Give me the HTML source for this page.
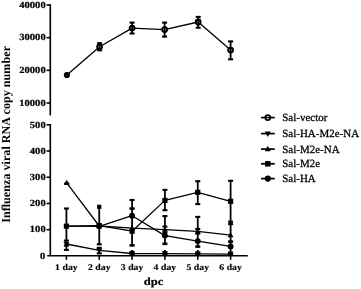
<!DOCTYPE html>
<html><head><meta charset="utf-8"><style>
html,body{margin:0;padding:0;background:#fff;}
svg{display:block;filter:blur(0.35px);}
.tk{font:bold 10px "Liberation Serif", serif;fill:#000;}
.xl{font:bold 9.6px "Liberation Serif", serif;fill:#000;}
.lg{font:10.8px "Liberation Serif", serif;fill:#000;}
text{font-family:"Liberation Serif", serif;text-rendering:geometricPrecision;}
</style></head><body>
<svg width="361" height="289" viewBox="0 0 361 289">
<rect width="361" height="289" fill="#fff"/>
<g transform="translate(10.10,134.40) rotate(-90) scale(0.1,0.1000)"><text x="0" y="0" text-anchor="middle" style="font-family:'Liberation Serif',serif;font-size:121.50px;font-weight:bold;">Influenza viral RNA copy number</text></g>
<line x1="50.3" y1="4.2" x2="50.3" y2="115.5" stroke="#000" stroke-width="1.6"/>
<line x1="46.6" y1="5.00" x2="50.3" y2="5.00" stroke="#000" stroke-width="1.6"/>
<g transform="translate(45.70,7.80) scale(0.1,0.0880)"><text x="0" y="0" text-anchor="end" style="font-family:'Liberation Serif',serif;font-size:106.00px;font-weight:bold;stroke:#000;stroke-width:2.40px;stroke-linejoin:round;">40000</text></g>
<line x1="46.6" y1="37.67" x2="50.3" y2="37.67" stroke="#000" stroke-width="1.6"/>
<g transform="translate(45.70,40.47) scale(0.1,0.0880)"><text x="0" y="0" text-anchor="end" style="font-family:'Liberation Serif',serif;font-size:106.00px;font-weight:bold;stroke:#000;stroke-width:2.40px;stroke-linejoin:round;">30000</text></g>
<line x1="46.6" y1="70.34" x2="50.3" y2="70.34" stroke="#000" stroke-width="1.6"/>
<g transform="translate(45.70,73.14) scale(0.1,0.0880)"><text x="0" y="0" text-anchor="end" style="font-family:'Liberation Serif',serif;font-size:106.00px;font-weight:bold;stroke:#000;stroke-width:2.40px;stroke-linejoin:round;">20000</text></g>
<line x1="46.6" y1="103.01" x2="50.3" y2="103.01" stroke="#000" stroke-width="1.6"/>
<g transform="translate(45.70,105.81) scale(0.1,0.0880)"><text x="0" y="0" text-anchor="end" style="font-family:'Liberation Serif',serif;font-size:106.00px;font-weight:bold;stroke:#000;stroke-width:2.40px;stroke-linejoin:round;">10000</text></g>
<line x1="50.3" y1="124.00000000000001" x2="50.3" y2="255.75" stroke="#000" stroke-width="1.6"/>
<line x1="46.6" y1="124.80" x2="50.3" y2="124.80" stroke="#000" stroke-width="1.6"/>
<g transform="translate(45.70,127.60) scale(0.1,0.0880)"><text x="0" y="0" text-anchor="end" style="font-family:'Liberation Serif',serif;font-size:106.00px;font-weight:bold;stroke:#000;stroke-width:2.40px;stroke-linejoin:round;">500</text></g>
<line x1="46.6" y1="151.02" x2="50.3" y2="151.02" stroke="#000" stroke-width="1.6"/>
<g transform="translate(45.70,153.82) scale(0.1,0.0880)"><text x="0" y="0" text-anchor="end" style="font-family:'Liberation Serif',serif;font-size:106.00px;font-weight:bold;stroke:#000;stroke-width:2.40px;stroke-linejoin:round;">400</text></g>
<line x1="46.6" y1="177.24" x2="50.3" y2="177.24" stroke="#000" stroke-width="1.6"/>
<g transform="translate(45.70,180.04) scale(0.1,0.0880)"><text x="0" y="0" text-anchor="end" style="font-family:'Liberation Serif',serif;font-size:106.00px;font-weight:bold;stroke:#000;stroke-width:2.40px;stroke-linejoin:round;">300</text></g>
<line x1="46.6" y1="203.46" x2="50.3" y2="203.46" stroke="#000" stroke-width="1.6"/>
<g transform="translate(45.70,206.26) scale(0.1,0.0880)"><text x="0" y="0" text-anchor="end" style="font-family:'Liberation Serif',serif;font-size:106.00px;font-weight:bold;stroke:#000;stroke-width:2.40px;stroke-linejoin:round;">200</text></g>
<line x1="46.6" y1="229.68" x2="50.3" y2="229.68" stroke="#000" stroke-width="1.6"/>
<g transform="translate(45.70,232.48) scale(0.1,0.0880)"><text x="0" y="0" text-anchor="end" style="font-family:'Liberation Serif',serif;font-size:106.00px;font-weight:bold;stroke:#000;stroke-width:2.40px;stroke-linejoin:round;">100</text></g>
<g transform="translate(45.40,259.05) scale(0.1,0.0880)"><text x="0" y="0" text-anchor="end" style="font-family:'Liberation Serif',serif;font-size:106.00px;font-weight:bold;stroke:#000;stroke-width:2.40px;stroke-linejoin:round;">0</text></g>
<line x1="47.2" y1="255.75" x2="247.8" y2="255.75" stroke="#000" stroke-width="1.6"/>
<line x1="66.40" y1="255.75" x2="66.40" y2="259.8" stroke="#000" stroke-width="1.6"/>
<g transform="translate(66.40,270.40) scale(0.1,0.0900)"><text x="0" y="0" text-anchor="middle" style="font-family:'Liberation Serif',serif;font-size:98.00px;font-weight:bold;stroke:#000;stroke-width:1.50px;stroke-linejoin:round;">1 day</text></g>
<line x1="99.24" y1="255.75" x2="99.24" y2="259.8" stroke="#000" stroke-width="1.6"/>
<g transform="translate(99.24,270.40) scale(0.1,0.0900)"><text x="0" y="0" text-anchor="middle" style="font-family:'Liberation Serif',serif;font-size:98.00px;font-weight:bold;stroke:#000;stroke-width:1.50px;stroke-linejoin:round;">2 day</text></g>
<line x1="132.08" y1="255.75" x2="132.08" y2="259.8" stroke="#000" stroke-width="1.6"/>
<g transform="translate(132.08,270.40) scale(0.1,0.0900)"><text x="0" y="0" text-anchor="middle" style="font-family:'Liberation Serif',serif;font-size:98.00px;font-weight:bold;stroke:#000;stroke-width:1.50px;stroke-linejoin:round;">3 day</text></g>
<line x1="164.92" y1="255.75" x2="164.92" y2="259.8" stroke="#000" stroke-width="1.6"/>
<g transform="translate(164.92,270.40) scale(0.1,0.0900)"><text x="0" y="0" text-anchor="middle" style="font-family:'Liberation Serif',serif;font-size:98.00px;font-weight:bold;stroke:#000;stroke-width:1.50px;stroke-linejoin:round;">4 day</text></g>
<line x1="197.76" y1="255.75" x2="197.76" y2="259.8" stroke="#000" stroke-width="1.6"/>
<g transform="translate(197.76,270.40) scale(0.1,0.0900)"><text x="0" y="0" text-anchor="middle" style="font-family:'Liberation Serif',serif;font-size:98.00px;font-weight:bold;stroke:#000;stroke-width:1.50px;stroke-linejoin:round;">5 day</text></g>
<line x1="230.60" y1="255.75" x2="230.60" y2="259.8" stroke="#000" stroke-width="1.6"/>
<g transform="translate(230.60,270.40) scale(0.1,0.0900)"><text x="0" y="0" text-anchor="middle" style="font-family:'Liberation Serif',serif;font-size:98.00px;font-weight:bold;stroke:#000;stroke-width:1.50px;stroke-linejoin:round;">6 day</text></g>
<g transform="translate(153.60,284.70) scale(0.1,0.0870)"><text x="0" y="0" text-anchor="middle" style="font-family:'Liberation Serif',serif;font-size:126.00px;font-weight:bold;stroke:#000;stroke-width:2.00px;stroke-linejoin:round;">dpc</text></g>
<polyline points="66.90,75.00 99.60,46.80 132.10,28.10 164.60,29.60 198.20,22.00 230.60,50.10" fill="none" stroke="#000" stroke-width="1.3" stroke-linejoin="round"/>
<circle cx="66.90" cy="75.00" r="3.1" fill="#000"/>
<circle cx="99.60" cy="46.80" r="2.35" fill="#fff" stroke="#000" stroke-width="2.1"/>
<line x1="99.60" y1="43.20" x2="99.60" y2="50.30" stroke="#000" stroke-width="1.8"/>
<line x1="97.10" y1="43.20" x2="102.10" y2="43.20" stroke="#000" stroke-width="2.1"/>
<line x1="97.10" y1="50.30" x2="102.10" y2="50.30" stroke="#000" stroke-width="2.1"/>
<circle cx="132.10" cy="28.10" r="2.35" fill="#fff" stroke="#000" stroke-width="2.1"/>
<line x1="132.10" y1="22.60" x2="132.10" y2="33.50" stroke="#000" stroke-width="1.8"/>
<line x1="129.60" y1="22.60" x2="134.60" y2="22.60" stroke="#000" stroke-width="2.1"/>
<line x1="129.60" y1="33.50" x2="134.60" y2="33.50" stroke="#000" stroke-width="2.1"/>
<circle cx="164.60" cy="29.60" r="2.35" fill="#fff" stroke="#000" stroke-width="2.1"/>
<line x1="164.60" y1="22.60" x2="164.60" y2="36.60" stroke="#000" stroke-width="1.8"/>
<line x1="162.10" y1="22.60" x2="167.10" y2="22.60" stroke="#000" stroke-width="2.1"/>
<line x1="162.10" y1="36.60" x2="167.10" y2="36.60" stroke="#000" stroke-width="2.1"/>
<circle cx="198.20" cy="22.00" r="2.35" fill="#fff" stroke="#000" stroke-width="2.1"/>
<line x1="198.20" y1="16.90" x2="198.20" y2="27.70" stroke="#000" stroke-width="1.8"/>
<line x1="195.70" y1="16.90" x2="200.70" y2="16.90" stroke="#000" stroke-width="2.1"/>
<line x1="195.70" y1="27.70" x2="200.70" y2="27.70" stroke="#000" stroke-width="2.1"/>
<circle cx="230.60" cy="50.10" r="2.35" fill="#fff" stroke="#000" stroke-width="2.1"/>
<line x1="230.60" y1="41.40" x2="230.60" y2="59.30" stroke="#000" stroke-width="1.8"/>
<line x1="228.10" y1="41.40" x2="233.10" y2="41.40" stroke="#000" stroke-width="2.1"/>
<line x1="228.10" y1="59.30" x2="233.10" y2="59.30" stroke="#000" stroke-width="2.1"/>
<polyline points="66.70,182.90 99.24,226.00 132.08,228.20 164.92,229.60 197.76,231.40 230.60,235.20" fill="none" stroke="#000" stroke-width="1.3" stroke-linejoin="round"/>
<polyline points="66.40,226.20 99.24,225.60 132.08,231.20 164.92,200.40 197.76,192.30 230.60,201.30" fill="none" stroke="#000" stroke-width="1.3" stroke-linejoin="round"/>
<polyline points="66.40,226.20 99.24,226.30 132.08,215.70 164.92,235.60 197.76,241.10 230.60,246.40" fill="none" stroke="#000" stroke-width="1.3" stroke-linejoin="round"/>
<polyline points="66.40,244.00 99.24,250.30 132.08,253.50 164.92,253.70 197.76,253.90 230.60,254.10" fill="none" stroke="#000" stroke-width="1.3" stroke-linejoin="round"/>
<line x1="66.40" y1="208.50" x2="66.40" y2="249.90" stroke="#000" stroke-width="1.8"/>
<line x1="63.90" y1="208.50" x2="68.90" y2="208.50" stroke="#000" stroke-width="2.1"/>
<line x1="63.90" y1="249.90" x2="68.90" y2="249.90" stroke="#000" stroke-width="2.1"/>
<line x1="63.90" y1="240.60" x2="68.90" y2="240.60" stroke="#000" stroke-width="2.1"/>
<line x1="63.90" y1="245.60" x2="68.90" y2="245.60" stroke="#000" stroke-width="2.1"/>
<line x1="99.24" y1="206.80" x2="99.24" y2="244.30" stroke="#000" stroke-width="1.8"/>
<line x1="99.24" y1="247.60" x2="99.24" y2="253.40" stroke="#000" stroke-width="1.8"/>
<line x1="96.74" y1="244.30" x2="101.74" y2="244.30" stroke="#000" stroke-width="2.1"/>
<line x1="96.74" y1="253.40" x2="101.74" y2="253.40" stroke="#000" stroke-width="2.1"/>
<line x1="96.74" y1="247.80" x2="101.74" y2="247.80" stroke="#000" stroke-width="2.1"/>
<line x1="132.08" y1="200.00" x2="132.08" y2="245.60" stroke="#000" stroke-width="1.8"/>
<line x1="132.08" y1="250.00" x2="132.08" y2="255.50" stroke="#000" stroke-width="1.8"/>
<line x1="129.58" y1="200.00" x2="134.58" y2="200.00" stroke="#000" stroke-width="2.1"/>
<line x1="129.48" y1="208.60" x2="134.68" y2="208.60" stroke="#000" stroke-width="2.5"/>
<line x1="129.48" y1="245.40" x2="134.68" y2="245.40" stroke="#000" stroke-width="2.6"/>
<line x1="164.92" y1="189.90" x2="164.92" y2="210.20" stroke="#000" stroke-width="1.8"/>
<line x1="164.92" y1="216.10" x2="164.92" y2="243.70" stroke="#000" stroke-width="1.8"/>
<line x1="164.92" y1="250.00" x2="164.92" y2="256.00" stroke="#000" stroke-width="1.8"/>
<line x1="162.42" y1="189.90" x2="167.42" y2="189.90" stroke="#000" stroke-width="2.1"/>
<line x1="162.42" y1="210.20" x2="167.42" y2="210.20" stroke="#000" stroke-width="2.1"/>
<line x1="162.42" y1="216.10" x2="167.42" y2="216.10" stroke="#000" stroke-width="2.1"/>
<line x1="162.42" y1="226.60" x2="167.42" y2="226.60" stroke="#000" stroke-width="2.1"/>
<line x1="162.42" y1="232.60" x2="167.42" y2="232.60" stroke="#000" stroke-width="2.1"/>
<line x1="162.42" y1="243.80" x2="167.42" y2="243.80" stroke="#000" stroke-width="2.6"/>
<line x1="197.76" y1="181.20" x2="197.76" y2="204.10" stroke="#000" stroke-width="1.8"/>
<line x1="197.76" y1="216.90" x2="197.76" y2="247.20" stroke="#000" stroke-width="1.8"/>
<line x1="197.76" y1="250.00" x2="197.76" y2="256.00" stroke="#000" stroke-width="1.8"/>
<line x1="195.26" y1="181.20" x2="200.26" y2="181.20" stroke="#000" stroke-width="2.1"/>
<line x1="195.26" y1="204.10" x2="200.26" y2="204.10" stroke="#000" stroke-width="2.1"/>
<line x1="195.26" y1="216.90" x2="200.26" y2="216.90" stroke="#000" stroke-width="2.1"/>
<line x1="195.26" y1="229.00" x2="200.26" y2="229.00" stroke="#000" stroke-width="2.1"/>
<line x1="195.26" y1="233.60" x2="200.26" y2="233.60" stroke="#000" stroke-width="2.1"/>
<line x1="195.26" y1="246.60" x2="200.26" y2="246.60" stroke="#000" stroke-width="2.6"/>
<line x1="230.60" y1="180.80" x2="230.60" y2="256.00" stroke="#000" stroke-width="1.8"/>
<line x1="228.10" y1="180.80" x2="233.10" y2="180.80" stroke="#000" stroke-width="2.1"/>
<line x1="228.10" y1="221.70" x2="233.10" y2="221.70" stroke="#000" stroke-width="2.1"/>
<line x1="228.10" y1="224.10" x2="233.10" y2="224.10" stroke="#000" stroke-width="2.1"/>
<line x1="228.10" y1="241.60" x2="233.10" y2="241.60" stroke="#000" stroke-width="2.6"/>
<rect x="63.80" y="223.60" width="5.2" height="5.2" fill="#000"/>
<rect x="96.64" y="223.00" width="5.2" height="5.2" fill="#000"/>
<rect x="129.48" y="228.60" width="5.2" height="5.2" fill="#000"/>
<rect x="162.32" y="197.80" width="5.2" height="5.2" fill="#000"/>
<rect x="195.16" y="189.70" width="5.2" height="5.2" fill="#000"/>
<rect x="228.00" y="198.70" width="5.2" height="5.2" fill="#000"/>
<circle cx="99.24" cy="226.30" r="2.95" fill="#000"/>
<circle cx="132.08" cy="215.70" r="2.95" fill="#000"/>
<circle cx="164.92" cy="235.60" r="2.95" fill="#000"/>
<circle cx="197.76" cy="241.10" r="2.95" fill="#000"/>
<circle cx="230.60" cy="246.40" r="2.95" fill="#000"/>
<polygon points="66.70,179.78 69.60,184.98 63.80,184.98" fill="#000"/>
<polygon points="99.24,222.88 102.14,228.08 96.34,228.08" fill="#000"/>
<polygon points="132.08,225.08 134.98,230.28 129.18,230.28" fill="#000"/>
<polygon points="164.92,226.48 167.82,231.68 162.02,231.68" fill="#000"/>
<polygon points="197.76,228.28 200.66,233.48 194.86,233.48" fill="#000"/>
<polygon points="230.60,232.08 233.50,237.28 227.70,237.28" fill="#000"/>
<polygon points="66.40,246.88 69.40,242.08 63.40,242.08" fill="#000"/>
<polygon points="99.24,253.18 102.34,248.38 96.14,248.38" fill="#000"/>
<rect x="129.48" y="250.90" width="5.2" height="4.2" fill="#000"/>
<rect x="162.32" y="251.10" width="5.2" height="4.2" fill="#000"/>
<rect x="195.16" y="251.30" width="5.2" height="4.2" fill="#000"/>
<rect x="228.00" y="251.50" width="5.2" height="4.2" fill="#000"/>
<line x1="64.10" y1="183.40" x2="69.30" y2="183.40" stroke="#000" stroke-width="1.6"/>
<rect x="97.14" y="204.70" width="4.2" height="4.2" fill="#000"/>
<line x1="261.0" y1="117.6" x2="274.8" y2="117.6" stroke="#000" stroke-width="1.7"/>
<circle cx="267.80" cy="117.60" r="2.5" fill="#fff" stroke="#000" stroke-width="1.8"/>
<line x1="265.40000000000003" y1="117.6" x2="270.2" y2="117.6" stroke="#000" stroke-width="1.3"/>
<g transform="translate(282.20,121.10) scale(0.1,0.1000)"><text x="0" y="0" text-anchor="start" style="font-family:'Liberation Serif',serif;font-size:110.00px;font-weight:normal;stroke:#000;stroke-width:2.80px;stroke-linejoin:round;">Sal-vector</text></g>
<line x1="261.0" y1="133.6" x2="274.8" y2="133.6" stroke="#000" stroke-width="1.7"/>
<polygon points="267.80,137.00 270.75,131.50 264.85,131.50" fill="#000"/>
<g transform="translate(282.20,137.10) scale(0.1,0.1000)"><text x="0" y="0" text-anchor="start" style="font-family:'Liberation Serif',serif;font-size:110.00px;font-weight:normal;stroke:#000;stroke-width:2.80px;stroke-linejoin:round;">Sal-HA-M2e-NA</text></g>
<line x1="261.0" y1="149.1" x2="274.8" y2="149.1" stroke="#000" stroke-width="1.7"/>
<polygon points="267.80,145.70 270.75,151.20 264.85,151.20" fill="#000"/>
<g transform="translate(282.20,152.60) scale(0.1,0.1000)"><text x="0" y="0" text-anchor="start" style="font-family:'Liberation Serif',serif;font-size:110.00px;font-weight:normal;stroke:#000;stroke-width:2.80px;stroke-linejoin:round;">Sal-M2e-NA</text></g>
<line x1="261.0" y1="163.8" x2="274.8" y2="163.8" stroke="#000" stroke-width="1.7"/>
<rect x="265.05" y="161.05" width="5.5" height="5.5" fill="#000"/>
<g transform="translate(282.20,167.30) scale(0.1,0.1000)"><text x="0" y="0" text-anchor="start" style="font-family:'Liberation Serif',serif;font-size:110.00px;font-weight:normal;stroke:#000;stroke-width:2.80px;stroke-linejoin:round;">Sal-M2e</text></g>
<line x1="261.0" y1="178.6" x2="274.8" y2="178.6" stroke="#000" stroke-width="1.7"/>
<circle cx="267.80" cy="178.60" r="3.1" fill="#000"/>
<g transform="translate(282.20,182.10) scale(0.1,0.1000)"><text x="0" y="0" text-anchor="start" style="font-family:'Liberation Serif',serif;font-size:110.00px;font-weight:normal;stroke:#000;stroke-width:2.80px;stroke-linejoin:round;">Sal-HA</text></g>
</svg>
</body></html>
